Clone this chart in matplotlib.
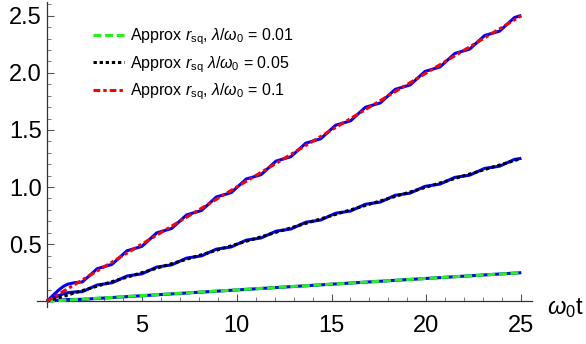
import matplotlib
matplotlib.use("Agg")
import matplotlib.pyplot as plt
from matplotlib.ticker import MultipleLocator, FixedLocator

plt.rcParams['font.family'] = ['Liberation Sans', 'DejaVu Sans']
plt.rcParams['mathtext.fontset'] = 'custom'
plt.rcParams['mathtext.rm'] = 'Liberation Sans'
plt.rcParams['mathtext.it'] = 'Liberation Sans:italic'

# ---- data ----
t_exact = [0, 0.3, 0.6, 0.85, 1.1, 1.47, 1.864, 2.256, 2.649, 3.042, 3.434, 3.827,
           4.220, 4.612, 5.005, 5.398, 5.790, 6.183, 6.576, 6.969, 7.361, 7.754,
           8.147, 8.539, 8.932, 9.325, 9.717, 10.110, 10.503, 10.896, 11.288,
           11.681, 12.074, 12.466, 12.859, 13.252, 13.644, 14.037, 14.430, 14.823,
           15.215, 15.608, 16.001, 16.393, 16.786, 17.179, 17.571, 17.964, 18.357,
           18.750, 19.142, 19.535, 19.928, 20.320, 20.713, 21.106, 21.499, 21.891,
           22.284, 22.677, 23.069, 23.462, 23.855, 24.247, 24.640, 25.0]
exact_01 = [0, 0.048, 0.095, 0.128, 0.150, 0.163, 0.169, 0.2256, 0.2849, 0.3042,
            0.3234, 0.3827, 0.4420, 0.4612, 0.4805, 0.5398, 0.5990, 0.6183, 0.6376,
            0.6969, 0.7561, 0.7754, 0.7947, 0.8539, 0.9132, 0.9325, 0.9517, 1.0110,
            1.0703, 1.0896, 1.1088, 1.1681, 1.2274, 1.2466, 1.2659, 1.3252, 1.3844,
            1.4037, 1.4230, 1.4823, 1.5415, 1.5608, 1.5801, 1.6393, 1.6986, 1.7179,
            1.7371, 1.7964, 1.8557, 1.8750, 1.8942, 1.9535, 2.0128, 2.0320, 2.0513,
            2.1106, 2.1699, 2.1891, 2.2084, 2.2677, 2.3269, 2.3462, 2.3655, 2.4247,
            2.4840, 2.503]
exact_005 = [0, 0.024, 0.0475, 0.064, 0.075, 0.0815, 0.0845, 0.1128, 0.1425, 0.1521,
             0.1617, 0.1914, 0.2210, 0.2306, 0.2403, 0.2699, 0.2995, 0.3092, 0.3188,
             0.3485, 0.3781, 0.3877, 0.3974, 0.4270, 0.4566, 0.4663, 0.4759, 0.5055,
             0.5352, 0.5448, 0.5544, 0.5841, 0.6137, 0.6233, 0.6330, 0.6626, 0.6922,
             0.7019, 0.7115, 0.7412, 0.7708, 0.7804, 0.7901, 0.8197, 0.8493, 0.8590,
             0.8686, 0.8982, 0.9279, 0.9375, 0.9471, 0.9768, 1.0064, 1.0160, 1.0257,
             1.0553, 1.0850, 1.0946, 1.1042, 1.1339, 1.1635, 1.1731, 1.1828, 1.2124,
             1.2420, 1.2515]
t_exact_001 = [0, 0.6, 1.1, 1.864, 25.0]
exact_001 = [0, 0.0095, 0.015, 0.0169, 0.2503]

t_approx = [0, 25]
approx_001 = [0, 0.25]
approx_005 = [0, 1.25]
approx_01 = [0, 2.5]

labels = [r"Approx $r_{\mathrm{sq}}$, $\lambda/\omega_0$ = 0.01",
          r"Approx $r_{\mathrm{sq}}$ $\lambda/\omega_0$ = 0.05",
          r"Approx $r_{\mathrm{sq}}$, $\lambda/\omega_0$ = 0.1"]
xticks = [5, 10, 15, 20, 25]
yticks = [0.5, 1.0, 1.5, 2.0, 2.5]

# ---- figure ----
fig = plt.figure(figsize=(5.86, 3.44), dpi=100)
ax = fig.add_axes([0.0638, 0.1076, 0.8442, 0.8864])
ax.set_xlim(-0.5, 25.57)
ax.set_ylim(-0.05, 2.62)

blue = (0, 0, 1)
lw_b = 2.2
ax.plot(t_exact_001, exact_001, color=blue, lw=lw_b, solid_capstyle='butt', zorder=2)
ax.plot(t_exact, exact_005, color=blue, lw=lw_b, solid_capstyle='butt', zorder=2)
ax.plot(t_exact, exact_01, color=blue, lw=lw_b, solid_capstyle='butt', zorder=2)

lw_d = 2.2
l1, = ax.plot(t_approx, approx_001, color=(0.15, 0.95, 0.1), lw=lw_d, zorder=3,
              dashes=(2.6, 1.2), dash_capstyle='butt', label=labels[0])
l2, = ax.plot(t_approx, approx_005, color='black', lw=lw_d, zorder=3,
              dashes=(1.1, 0.9), dash_capstyle='butt', label=labels[1])
l3, = ax.plot(t_approx, approx_01, color=(1, 0, 0), lw=lw_d, zorder=3,
              dashes=(2.2, 1.0, 1.1, 1.0), dash_capstyle='butt', label=labels[2])

for s in ['top', 'right']:
    ax.spines[s].set_visible(False)
ax.spines['left'].set_position(('data', 0))
ax.spines['bottom'].set_position(('data', 0))
for s in ['left', 'bottom']:
    ax.spines[s].set_color('#333333')
    ax.spines[s].set_linewidth(0.9)

ax.xaxis.set_major_locator(FixedLocator(xticks))
ax.xaxis.set_minor_locator(MultipleLocator(1))
ax.yaxis.set_major_locator(FixedLocator(yticks))
ax.yaxis.set_minor_locator(MultipleLocator(0.1))
ax.set_xticklabels([str(v) for v in xticks])
ax.set_yticklabels([f"{v:.1f}" for v in yticks])
ax.tick_params(which='major', direction='in', length=5, width=0.8, color='#555555',
               labelsize=17)
ax.tick_params(axis='x', which='major', pad=10)
ax.tick_params(axis='y', which='major', pad=3.5)
ax.tick_params(which='minor', direction='in', length=3, width=0.7, color='#777777')

ax.text(26.35, -0.06, r"$\omega_0$t", fontsize=17, ha='left', va='center',
        transform=ax.transData, clip_on=False)

ax.legend(handles=[l1, l2, l3], loc='upper left', bbox_to_anchor=(0.1, 0.94),
          frameon=False, fontsize=11.5, handlelength=1.9, handletextpad=0.4,
          labelspacing=0.42, borderaxespad=0)

fig.savefig("out.png", dpi=100)
